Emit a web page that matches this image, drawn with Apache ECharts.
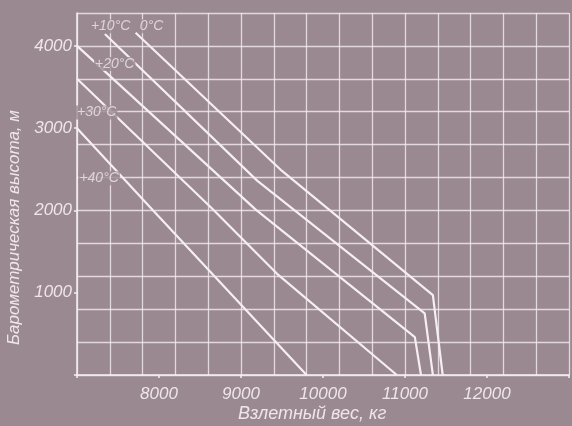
<!DOCTYPE html>
<html>
<head>
<meta charset="utf-8">
<script src="https://cdn.jsdelivr.net/npm/echarts@6/dist/echarts.min.js"></script>
<style>
html,body{margin:0;padding:0;background:#9a8990;}
#c{width:572px;height:426px;}
</style>
</head>
<body>
<div id="c"></div>
<script>
// ---- data (weight kg, altitude m) ----
var seriesNames = ['+40°C', '+30°C', '+20°C', '+10°C', '0°C'];
var line40 = [[7000, 3000], [7920, 2010], [9800, 0]];
var line30 = [[7000, 3600], [8650, 2020], [9440, 1230], [10900, 0]];
var line20 = [[7000, 4000], [9180, 2010], [11120, 460], [11195, 0]];
var line10 = [[7340, 4145], [9200, 2360], [11240, 750], [11340, 0]];
var line0  = [[7715, 4160], [9500, 2480], [11340, 970], [11460, 0]];
var xTickLabels = [8000, 9000, 10000, 11000, 12000];
var yTickLabels = [1000, 2000, 3000, 4000];
var tempLabelText = ['+10°C', '0°C', '+20°C', '+30°C', '+40°C'];
var tempLabelKg = [7410, 7910, 7460, 7240, 7270];
var tempLabelM = [4240, 4240, 3780, 3190, 2390];
var xTitle = 'Взлетный вес, кг';
var yTitle = 'Барометрическая высота, м';

var FONT = '"Liberation Sans",Arial,sans-serif';
var TXT = '#efe6ea';
var LINE = '#f6eff2';
var GRID = 'rgba(245,236,240,0.8)';
var BG = '#9a8990';

var chart = echarts.init(document.getElementById('c'));
var lines = [line40, line30, line20, line10, line0];
var series = lines.map(function (d, i) {
  return {
    name: seriesNames[i], type: 'line', data: d, xAxisIndex: 0, yAxisIndex: 0,
    symbol: 'none', smooth: false, silent: true,
    lineStyle: {color: LINE, width: 2.2}, z: 5
  };
});
series.push({
  type: 'scatter', xAxisIndex: 0, yAxisIndex: 0, symbolSize: 0, silent: true,
  data: tempLabelText.map(function (t, i) { return {value: [tempLabelKg[i], tempLabelM[i]], name: t}; }),
  label: {show: true, position: 'inside', formatter: '{b}', color: TXT,
    fontFamily: FONT, fontStyle: 'italic', fontSize: 14,
    backgroundColor: BG, padding: [0, 1]},
  z: 6
});

chart.setOption({
  backgroundColor: BG,
  animation: false,
  grid: {left: 77, right: 0, top: 13, bottom: 51, containLabel: false},
  xAxis: [
    {type: 'value', min: 7000, max: 13000, interval: 400, position: 'bottom',
     axisLabel: {show: false}, axisTick: {show: false},
     axisLine: {show: true, onZero: false, lineStyle: {color: LINE, width: 1.5}},
     splitLine: {show: true, lineStyle: {color: GRID, width: 1.3}}},
    {type: 'value', min: 7000, max: 13000, interval: 1000, position: 'bottom', offset: 0,
     axisLine: {show: false, onZero: false},
     axisTick: {show: true, length: 3, inside: false, lineStyle: {color: LINE, width: 1.5}},
     splitLine: {show: false},
     axisLabel: {show: true, margin: 11, color: TXT, fontFamily: FONT, fontStyle: 'italic', fontSize: 17,
       formatter: function (v) { return xTickLabels.indexOf(v) >= 0 ? String(v) : ''; }}}
  ],
  yAxis: [
    {type: 'value', min: 0, max: 4400, interval: 400, position: 'left',
     axisLabel: {show: false}, axisTick: {show: false},
     axisLine: {show: true, onZero: false, lineStyle: {color: LINE, width: 1.5}},
     splitLine: {show: true, lineStyle: {color: GRID, width: 1.3}}},
    {type: 'value', min: 0, max: 4400, interval: 1000, position: 'left', offset: 0,
     axisLine: {show: false, onZero: false},
     axisTick: {show: true, length: 3, lineStyle: {color: LINE, width: 1.5}},
     splitLine: {show: false},
     axisLabel: {show: true, margin: 5, color: TXT, fontFamily: FONT, fontStyle: 'italic', fontSize: 17,
       showMaxLabel: false,
       formatter: function (v) { return yTickLabels.indexOf(v) >= 0 ? String(v) : ''; }}}
  ],
  graphic: [
    {type: 'text', left: 238, top: 405, silent: true,
     style: {text: xTitle, fill: TXT, font: 'italic 18px ' + FONT}},
    {type: 'text', x: 6, y: 345, rotation: Math.PI / 2, silent: true,
     style: {text: yTitle, fill: TXT, font: 'italic 17px ' + FONT}}
  ],
  series: series
});
</script>
</body>
</html>
